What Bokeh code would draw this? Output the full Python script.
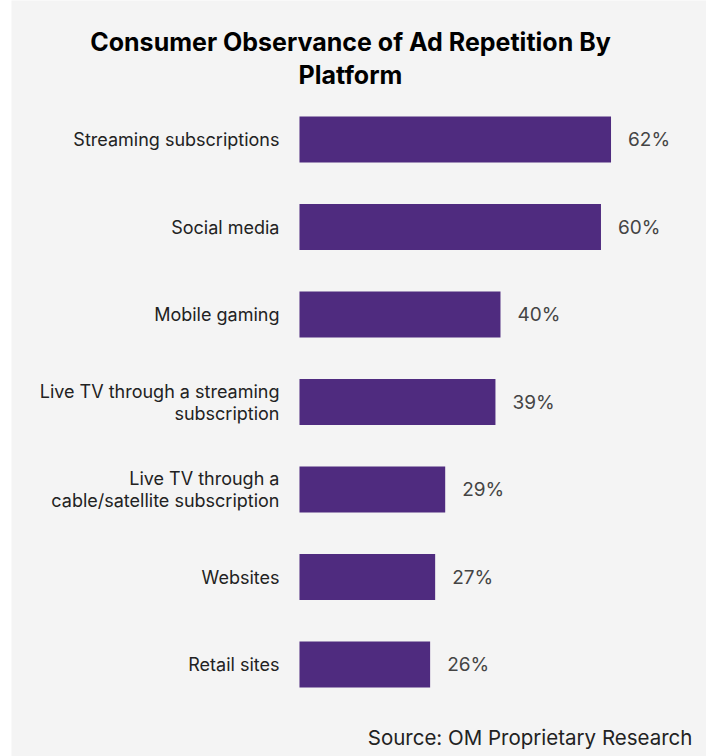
from bokeh.plotting import figure
from bokeh.models import ColumnDataSource, Range1d
from bokeh.core.properties import value
from bokeh.embed import file_html
from bokeh.resources import INLINE

categories = [
    "Streaming subscriptions",
    "Social media",
    "Mobile gaming",
    "Live TV through a streaming\nsubscription",
    "Live TV through a\ncable/satellite subscription",
    "Websites",
    "Retail sites",
]
values = [62, 60, 40, 39, 29, 27, 26]
value_labels = [f"{v}%" for v in values]
title_text = "Consumer Observance of Ad Repetition By\nPlatform"
source_text = "Source: OM Proprietary Research"

FONT = "Inter"
BG = "#f4f4f4"

rows = list(range(len(categories)))  # 0 = top row
src = ColumnDataSource(dict(cat=categories, val=values, lab=value_labels,
                            row=rows, zero=[0] * len(values)))

# the plotting frame spans the whole canvas; x in percent, y in row units
p = figure(
    width=695, height=756,
    x_range=Range1d(-57.31, 81.0),
    y_range=Range1d(7.051, -1.589),
    x_axis_location=None, y_axis_location=None,
    toolbar_location=None,
    output_backend="svg",
    min_border=0,
)
p.margin = (0, 5, 0, 11)
p.background_fill_color = BG
p.border_fill_color = BG
p.outline_line_color = None
p.grid.visible = False

p.hbar(y="row", right="val", left=0, height=0.525, source=src,
       fill_color="#4f2b7f", line_color=None)

# value labels
p.text(x="val", y="row", text="lab", source=src, x_offset=17,
       text_baseline="middle", text_align="left",
       text_font=value(FONT), text_font_size="19px", text_color="#444444")

# category labels
p.text(x="zero", y="row", text="cat", source=src, x_offset=-20,
       text_baseline="middle", text_align="right", text_line_height=1.05,
       text_font=value(FONT), text_font_size="18px", text_color="#222222")

# title
p.text(x=[10.15], y=[-0.93], text=[title_text], text_align="center",
       text_baseline="middle", text_line_height=1.1,
       text_font=value(FONT), text_font_size="25px", text_font_style="bold",
       text_color="#000000")

# source note
p.text(x=[78.2], y=[6.834], text=[source_text], text_align="right",
       text_baseline="middle", text_font=value(FONT), text_font_size="20.5px",
       text_color="#222222")

open("out.html", "w").write(file_html(p, INLINE))
